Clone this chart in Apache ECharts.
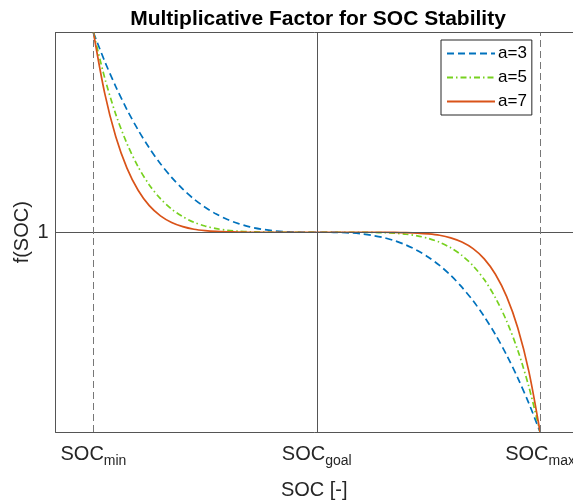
<!DOCTYPE html>
<html lang="en">
  <head>
    <meta charset="utf-8" />
    <title>Multiplicative Factor for SOC Stability</title>
    <script src="https://cdn.jsdelivr.net/npm/echarts@6/dist/echarts.min.js"></script>
    <style>
      html, body { margin: 0; padding: 0; background: #fff; }
      #main { width: 573px; height: 502px; }
    </style>
  </head>
  <body>
    <div id="main"></div>
    <script>
      // SOC positions (0 = SOC_min, 1 = SOC_goal, 2 = SOC_max)
      var socX = [
        0, 0.05, 0.1, 0.15, 0.2, 0.25, 0.3, 0.35, 0.4, 0.45, 0.5,
        0.55, 0.6, 0.65, 0.7, 0.75, 0.8, 0.85, 0.9, 0.95, 1,
        1.05, 1.1, 1.15, 1.2, 1.25, 1.3, 1.35, 1.4, 1.45, 1.5,
        1.55, 1.6, 1.65, 1.7, 1.75, 1.8, 1.85, 1.9, 1.95, 2
      ];
      // f(SOC)
      var fA3 = [
        2.000, 1.857, 1.729, 1.614, 1.512, 1.422, 1.343, 1.275, 1.216, 1.166, 1.125,
        1.091, 1.064, 1.043, 1.027, 1.016, 1.008, 1.003, 1.001, 1.000, 1.000,
        1.000, 0.999, 0.997, 0.992, 0.984, 0.973, 0.957, 0.936, 0.909, 0.875,
        0.834, 0.784, 0.725, 0.657, 0.578, 0.488, 0.386, 0.271, 0.143, 0.000
      ];
      var fA5 = [
        2.000, 1.774, 1.590, 1.444, 1.328, 1.237, 1.168, 1.116, 1.078, 1.050, 1.031,
        1.018, 1.010, 1.005, 1.002, 1.001, 1.000, 1.000, 1.000, 1.000, 1.000,
        1.000, 1.000, 1.000, 1.000, 0.999, 0.998, 0.995, 0.990, 0.982, 0.969,
        0.950, 0.922, 0.884, 0.832, 0.763, 0.672, 0.556, 0.410, 0.226, 0.000
      ];
      var fA7 = [
        2.000, 1.698, 1.478, 1.321, 1.210, 1.133, 1.082, 1.049, 1.028, 1.015, 1.008,
        1.004, 1.002, 1.001, 1.000, 1.000, 1.000, 1.000, 1.000, 1.000, 1.000,
        1.000, 1.000, 1.000, 1.000, 1.000, 1.000, 0.999, 0.998, 0.996, 0.992,
        0.985, 0.972, 0.951, 0.918, 0.867, 0.790, 0.679, 0.522, 0.302, 0.000
      ];
      var seriesNames = ["a=3", "a=5", "a=7"];
      var xTickValues = [0, 1, 2];
      var xTickSubs = ["min", "goal", "max"];
      var yTickValues = [1];

      var font = "Liberation Sans, Arial, Helvetica, sans-serif";
      var xMin = -0.17;
      var xMax = 2.1475;

      function pairs(ys) {
        return socX.map(function (x, i) {
          return [x, ys[i]];
        });
      }

      var chart = echarts.init(document.getElementById("main"), null, { renderer: "canvas" });

      var option = {
        animation: false,
        backgroundColor: "#fff",
        textStyle: { fontFamily: font },
        title: {
          text: "Multiplicative Factor for SOC Stability",
          left: 313,
          top: 4,
          textAlign: "center",
          textStyle: { fontFamily: font, fontSize: 21, fontWeight: "bold", color: "#000" }
        },
        legend: {
          data: seriesNames,
          orient: "vertical",
          left: 441,
          top: 40,
          padding: [5, 5, 5, 5],
          itemGap: 7,
          itemWidth: 48,
          itemHeight: 15,
          itemStyle: { opacity: 0 },
          borderColor: "#262626",
          borderWidth: 1,
          borderRadius: 0,
          backgroundColor: "#fff",
          textStyle: { fontFamily: font, fontSize: 17, color: "#000", padding: [0, 0, 0, -2] }
        },
        grid: {
          left: 55.5,
          right: 0,
          top: 32.5,
          bottom: 70,
          containLabel: false,
          outerBoundsMode: "none"
        },
        xAxis: [
          {
            type: "value",
            min: xMin,
            max: xMax,
            name: "SOC [-]",
            nameLocation: "middle",
            nameGap: 48,
            nameMoveOverlap: false,
            nameTextStyle: { fontFamily: font, fontSize: 20, color: "#262626" },
            axisLine: { show: true, onZero: false, lineStyle: { color: "#555", width: 1 } },
            axisTick: { show: false },
            splitLine: { show: false },
            axisLabel: {
              customValues: xTickValues,
              margin: 8,
              formatter: function (v) {
                var i = xTickValues.indexOf(v);
                return "{m|SOC}{s|" + xTickSubs[i] + "}";
              },
              rich: {
                m: { fontFamily: font, fontSize: 20, color: "#262626" },
                s: { fontFamily: font, fontSize: 14, color: "#262626", padding: [14, 0, 0, 0] }
              }
            }
          },
          {
            type: "value",
            position: "top",
            min: xMin,
            max: xMax,
            axisLine: { show: true, onZero: false, lineStyle: { color: "#555", width: 1 } },
            axisTick: { show: false },
            axisLabel: { show: false },
            splitLine: { show: false }
          }
        ],
        yAxis: {
          type: "value",
          min: 0,
          max: 2,
          name: "f(SOC)",
          nameLocation: "middle",
          nameGap: 23,
          nameMoveOverlap: false,
          nameTextStyle: { fontFamily: font, fontSize: 20, color: "#262626" },
          axisLine: { show: true, onZero: false, lineStyle: { color: "#555", width: 1 } },
          axisTick: { show: false },
          splitLine: { show: false },
          axisLabel: {
            customValues: yTickValues,
            margin: 7,
            fontFamily: font,
            fontSize: 20,
            color: "#262626"
          }
        },
        series: [
          {
            name: "ref",
            type: "line",
            data: [],
            silent: true,
            markLine: {
              silent: true,
              symbol: "none",
              label: { show: false },
              animation: false,
              data: [
                { yAxis: 1, lineStyle: { color: "#555", width: 1, type: "solid" } },
                { xAxis: 1, lineStyle: { color: "#555", width: 1, type: "solid" } },
                { xAxis: 0, lineStyle: { color: "#777", width: 1, type: [7, 4] } },
                { xAxis: 2, lineStyle: { color: "#777", width: 1, type: [7, 4] } }
              ]
            }
          },
          {
            name: seriesNames[0],
            type: "line",
            data: pairs(fA3),
            smooth: 0.3,
            symbol: "none",
            color: "#0072BD",
            lineStyle: { width: 1.7, type: [7, 4] }
          },
          {
            name: seriesNames[1],
            type: "line",
            data: pairs(fA5),
            smooth: 0.3,
            symbol: "none",
            color: "#77D11F",
            lineStyle: { width: 1.7, type: [6, 3, 1.5, 3] }
          },
          {
            name: seriesNames[2],
            type: "line",
            data: pairs(fA7),
            smooth: 0.3,
            symbol: "none",
            color: "#D95319",
            lineStyle: { width: 1.7, type: "solid" }
          }
        ]
      };

      chart.setOption(option);
    </script>
  </body>
</html>
